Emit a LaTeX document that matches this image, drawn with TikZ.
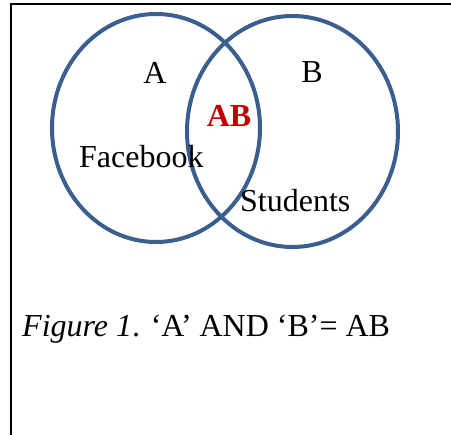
\documentclass[tikz,border=0pt]{standalone}
\usepackage{fontspec}
\setmainfont{Liberation Serif}
\usetikzlibrary{shapes.geometric}
\definecolor{vennblue}{HTML}{3A5F8E}
\definecolor{abred}{HTML}{C00000}
\begin{document}
\begin{tikzpicture}[x=1pt,y=-1pt,
  venn/.style={ellipse, draw=vennblue, line width=4pt, inner sep=0pt},
  lbl/.style={inner sep=0pt, font=\fontsize{32}{38}\selectfont},
  frame/.style={line width=2pt, black}]
\useasboundingbox (0,0) rectangle (451,435);
\coordinate (tl) at (11,4);
\coordinate (tr) at (451,4);
\coordinate (bl) at (11,435);
\draw[frame] (tr) -- (tl) -- (bl);
\node[venn, minimum width=208pt, minimum height=228pt] (ca) at (156,128) {};
\node[venn, minimum width=211pt, minimum height=231pt] (cb) at (292.5,131.5) {};
\node[lbl, anchor=base] (la) at (155,84) {A};
\node[lbl, anchor=base] (lb) at (312,83) {B};
\node[lbl, anchor=base, text=abred, font=\fontsize{32}{38}\selectfont\bfseries] (lab) at (229,127) {AB};
\node[lbl, anchor=base west] (fb) at (79,168) {Facebook};
\node[lbl, anchor=base west] (st) at (240,212) {Students};
\node[lbl, anchor=base west] (cap) at (22,337) {\textit{Figure 1}. ‘A’ AND ‘B’= AB};
\end{tikzpicture}
\end{document}
